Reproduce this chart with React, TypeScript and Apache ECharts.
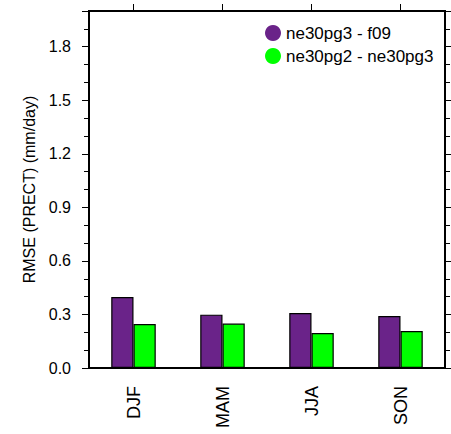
import React, { useEffect, useRef } from "react";
import * as echarts from "echarts";

const seasons = ["DJF", "MAM", "JJA", "SON"];
const seriesNames = ["ne30pg3 - f09", "ne30pg2 - ne30pg3"];
const pg3VsF09 = [0.398, 0.299, 0.308, 0.291];
const pg2VsPg3 = [0.246, 0.249, 0.196, 0.207];
const seriesColors = ["#6a2389", "#00ff00"];

const FONT = "Liberation Sans, Arial, Helvetica, sans-serif";

export default function App() {
  const ref = useRef<HTMLDivElement>(null);
  useEffect(() => {
    if (!ref.current) return;
    const chart = echarts.init(ref.current, undefined, { renderer: "svg" });
    const frame = { color: "#000", width: 2 };
    const tick = { color: "#000", width: 1 };
    chart.setOption({
      animation: false,
      backgroundColor: "#fff",
      textStyle: { fontFamily: FONT },
      grid: { left: 89, right: 6, top: 11, bottom: 66, show: true, borderColor: "#000", borderWidth: 2, outerBoundsMode: "none" },
      legend: {
        orient: "vertical",
        left: 260,
        top: 19,
        icon: "circle",
        itemWidth: 16,
        itemHeight: 16,
        itemGap: 5,
        data: seriesNames,
        itemStyle: { borderWidth: 0 },
        textStyle: { fontSize: 17, color: "#000", fontFamily: FONT, lineHeight: 18 },
      },
      xAxis: [
        {
          type: "category",
          data: seasons,
          position: "bottom",
          axisLine: { onZero: false, lineStyle: frame },
          axisTick: { alignWithLabel: true, length: 7, lineStyle: tick },
          axisLabel: { rotate: 90, fontSize: 18, color: "#000", margin: 18, fontFamily: FONT, interval: 0 },
        },
        {
          type: "category",
          data: seasons,
          position: "top",
          axisLine: { show: true, onZero: false, lineStyle: frame },
          axisTick: { show: true, alignWithLabel: true, length: 7, lineStyle: tick },
          axisLabel: { show: false },
        },
      ],
      yAxis: [
        {
          type: "value",
          min: 0,
          max: 2,
          interval: 0.3,
          position: "left",
          name: "RMSE (PRECT) (mm/day)",
          nameLocation: "middle",
          nameGap: 50,
          nameTextStyle: { fontSize: 16, color: "#000", fontFamily: FONT },
          splitLine: { show: false },
          axisLine: { show: true, onZero: false, lineStyle: frame },
          axisTick: { show: true, length: 7, lineStyle: tick },
          minorTick: { show: true, splitNumber: 3, length: 5, lineStyle: tick },
          axisLabel: {
            fontSize: 16,
            color: "#000",
            margin: 18,
            showMaxLabel: false,
            fontFamily: FONT,
            formatter: (v: number) => v.toFixed(1),
          },
        },
        {
          type: "value",
          min: 0,
          max: 2,
          interval: 0.3,
          position: "right",
          splitLine: { show: false },
          axisLine: { show: true, onZero: false, lineStyle: frame },
          axisTick: { show: true, length: 7, lineStyle: tick },
          minorTick: { show: true, splitNumber: 3, length: 5, lineStyle: tick },
          axisLabel: { show: false },
        },
      ],
      series: [
        {
          name: seriesNames[0],
          type: "bar",
          data: pg3VsF09,
          barWidth: "25%",
          barGap: "0%",
          itemStyle: { color: seriesColors[0], borderColor: "#000", borderWidth: 1.2 },
        },
        {
          name: seriesNames[1],
          type: "bar",
          data: pg2VsPg3,
          barWidth: "25%",
          barGap: "0%",
          itemStyle: { color: seriesColors[1], borderColor: "#000", borderWidth: 1.2 },
        },
      ],
    });
    return () => chart.dispose();
  }, []);
  return (
    <div
      ref={ref}
      style={{ position: "absolute", left: 0, top: 0, width: 451, height: 434 }}
    />
  );
}
